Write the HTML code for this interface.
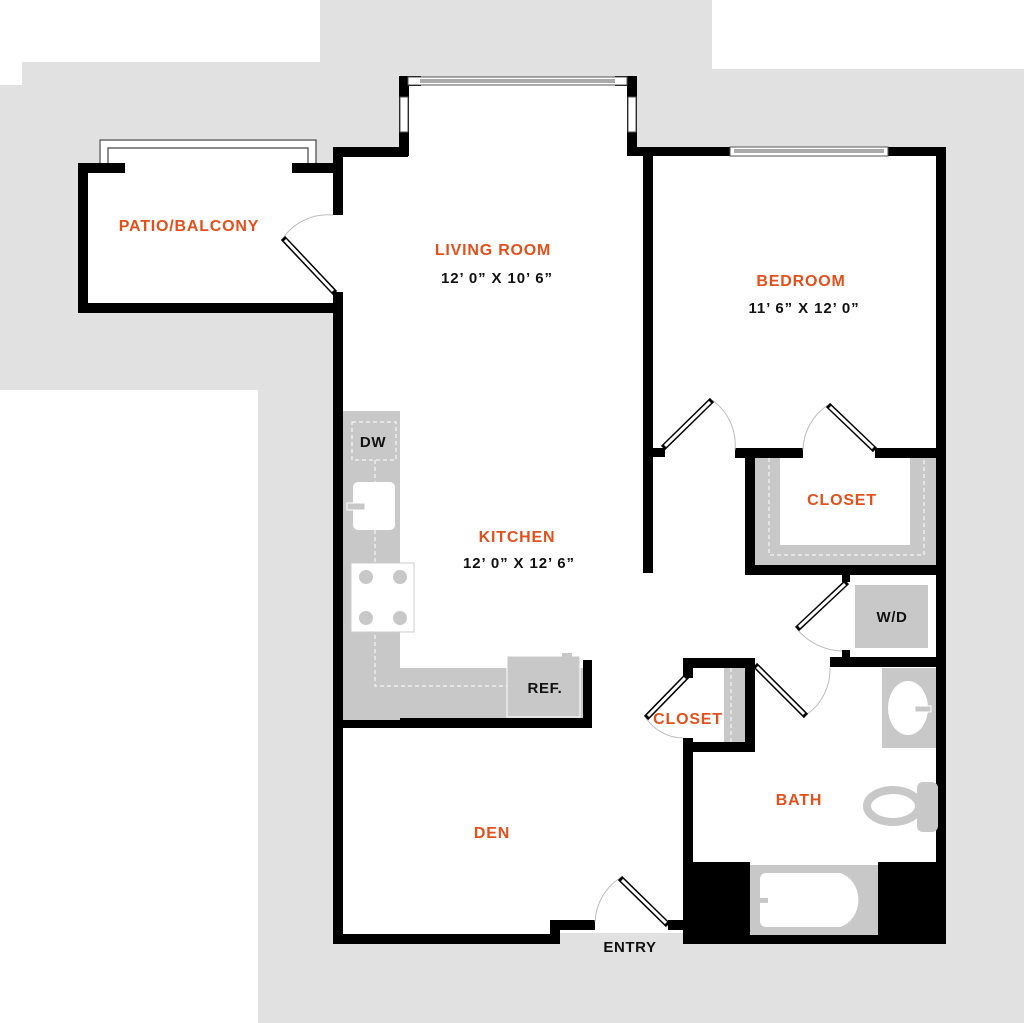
<!DOCTYPE html>
<html><head><meta charset="utf-8"><style>
html,body{margin:0;padding:0;background:#fff;}
svg{display:block;}
.lab{font-family:"Liberation Sans",sans-serif;font-weight:bold;fill:#e2501c;font-size:16px;letter-spacing:0.8px;text-anchor:middle;}
.dim{font-family:"Liberation Sans",sans-serif;font-weight:bold;fill:#111;font-size:15px;letter-spacing:0.9px;text-anchor:middle;}
.blk{font-family:"Liberation Sans",sans-serif;font-weight:bold;fill:#111;font-size:15px;letter-spacing:0.6px;text-anchor:middle;}
</style></head><body>
<svg width="1024" height="1023" viewBox="0 0 1024 1023" xmlns="http://www.w3.org/2000/svg">
<rect x="0" y="0" width="1024" height="1023" fill="#e1e1e1"/>
<rect x="0" y="0" width="320" height="62" fill="#fff"/>
<rect x="0" y="0" width="22" height="85" fill="#fff"/>
<rect x="712" y="0" width="312" height="69" fill="#fff"/>
<rect x="0" y="390" width="258" height="633" fill="#fff"/>

<rect x="88" y="163" width="250" height="142" fill="#fff"/>
<rect x="338" y="150" width="605" height="785" fill="#fff"/>
<rect x="403" y="80" width="230" height="80" fill="#fff"/>
<rect x="99" y="139" width="217" height="26" fill="#fff"/>
<rect x="558" y="925" width="125" height="37" fill="#e1e1e1"/>
<rect x="558" y="925" width="125" height="8" fill="#fff"/>

<g fill="#000">
<rect x="78" y="163" width="10" height="150"/>
<rect x="78" y="163" width="47" height="10"/>
<rect x="292" y="163" width="51" height="10"/>
<rect x="78" y="303" width="265" height="10"/>
<rect x="333" y="147" width="10" height="68"/>
<rect x="333" y="292" width="10" height="652"/>
<rect x="333" y="147" width="75" height="10"/>
<rect x="399" y="76" width="10" height="80"/>
<rect x="399" y="76" width="22" height="10"/>
<rect x="615" y="76" width="22" height="10"/>
<rect x="627" y="76" width="10" height="80"/>
<rect x="627" y="147" width="103" height="9"/>
<rect x="888" y="147" width="58" height="9"/>
<rect x="936" y="147" width="10" height="797"/>
<rect x="643" y="147" width="10" height="303"/>
<rect x="643" y="457" width="10" height="116"/>
<rect x="643" y="448" width="22" height="9"/>
<rect x="735" y="448" width="68" height="10"/>
<rect x="875" y="448" width="71" height="10"/>
<rect x="745" y="448" width="10" height="127"/>
<rect x="745" y="565" width="201" height="10"/>
<rect x="842" y="565" width="8" height="17"/>
<rect x="842" y="650" width="8" height="10"/>
<rect x="830" y="657" width="116" height="10"/>
<rect x="683" y="658" width="72" height="10"/>
<rect x="683" y="658" width="10" height="20"/>
<rect x="683" y="738" width="10" height="206"/>
<rect x="745" y="658" width="10" height="94"/>
<rect x="683" y="742" width="72" height="10"/>
<rect x="683" y="862" width="67" height="82"/>
<rect x="878" y="862" width="68" height="82"/>
<rect x="683" y="934" width="263" height="10"/>
<rect x="333" y="718" width="259" height="10"/>
<rect x="583" y="660" width="9" height="68"/>
<rect x="333" y="934" width="225" height="10"/>
<rect x="550" y="920" width="10" height="24"/>
<rect x="550" y="920" width="45" height="10"/>
<rect x="668" y="920" width="25" height="10"/>
</g>

<g fill="#fff" stroke="#555" stroke-width="1">
<rect x="408" y="77" width="219" height="8"/>
<line x1="420" y1="80" x2="615" y2="80"/><line x1="420" y1="82" x2="615" y2="82"/>
<rect x="400" y="97" width="8" height="35"/>
<rect x="628" y="97" width="8" height="35"/>
<rect x="730" y="147" width="158" height="9"/>
<line x1="734" y1="150" x2="884" y2="150"/><line x1="734" y1="152" x2="884" y2="152"/>
</g>
<g fill="none" stroke="#444" stroke-width="1.2">
<polyline points="100,163 100,140 316,140 316,163"/>
<polyline points="108,163 108,148 308,148 308,163"/>
</g>

<g fill="#c8c8c8">
<rect x="343" y="411" width="57" height="309"/>
<rect x="343" y="668" width="240" height="50"/>
<rect x="507" y="656" width="73" height="61" stroke="#fff" stroke-width="1"/>
<rect x="562" y="653" width="10" height="4"/>
</g>
<g fill="none" stroke="#fff" stroke-width="1" stroke-dasharray="4,3">
<rect x="352" y="422" width="44" height="38"/>
<polyline points="375,460 375,686 507,686"/>
</g>
<rect x="353" y="482" width="42" height="48" rx="5" fill="#fff"/>
<rect x="347" y="503" width="18" height="7" fill="#c8c8c8" stroke="#fff"/>
<rect x="351" y="563" width="63" height="69" fill="#fff" stroke="#ccc"/>
<g fill="#c8c8c8"><circle cx="366" cy="577" r="7"/><circle cx="400" cy="577" r="7"/><circle cx="366" cy="618" r="7"/><circle cx="400" cy="618" r="7"/></g>

<rect x="755" y="458" width="181" height="107" fill="#c8c8c8"/>
<rect x="780" y="458" width="130" height="87" fill="#fff"/>
<polyline points="769,458 769,555 924,555 924,458" fill="none" stroke="#fff" stroke-dasharray="4,3"/>
<rect x="855" y="585" width="73" height="63" fill="#c8c8c8"/>
<rect x="724" y="668" width="21" height="74" fill="#c8c8c8"/>
<line x1="731" y1="668" x2="731" y2="742" stroke="#fff" stroke-dasharray="4,3"/>
<rect x="882" y="668" width="54" height="80" fill="#c8c8c8"/>
<ellipse cx="908" cy="708" rx="20" ry="27" fill="#fff"/>
<rect x="915" y="706" width="16" height="6" fill="#c8c8c8" stroke="#fff"/>
<rect x="917" y="782" width="21" height="50" rx="6" fill="#c8c8c8"/>
<ellipse cx="893" cy="806" rx="26" ry="16" fill="#fff" stroke="#c8c8c8" stroke-width="8"/>
<rect x="750" y="865" width="128" height="70" fill="#c8c8c8"/>
<path d="M766,873 H840 A25,28 0 0 1 840,927 H766 A6,6 0 0 1 760,921 V879 A6,6 0 0 1 766,873 Z" fill="#fff"/>
<rect x="758" y="898" width="10" height="5" fill="#c8c8c8"/>

<g fill="none" stroke="#bbb" stroke-width="1">
<path d="M283,238 A55,55 0 0 1 333,215"/>
<path d="M712,400 A55,55 0 0 1 735,450"/>
<path d="M828,405 A55,55 0 0 0 803,450"/>
<path d="M797,629 A60,60 0 0 0 842,651"/>
<path d="M806,715 A55,55 0 0 0 830,668"/>
<path d="M646,718 A45,45 0 0 0 683,738"/>
<path d="M620,878 A55,55 0 0 0 595,922"/>
</g>
<g stroke="#000" stroke-width="6" stroke-linecap="butt">
<line x1="283" y1="238" x2="335" y2="293"/>
<line x1="663" y1="448" x2="712" y2="400"/>
<line x1="875" y1="450" x2="828" y2="405"/>
<line x1="847" y1="582" x2="797" y2="629"/>
<line x1="755" y1="665" x2="806" y2="716"/>
<line x1="687" y1="676" x2="646" y2="718"/>
<line x1="620" y1="878" x2="668" y2="925"/>
</g>
<g stroke="#fff" stroke-width="3">
<line x1="285" y1="240" x2="333" y2="291"/>
<line x1="665" y1="446" x2="710" y2="402"/>
<line x1="873" y1="448" x2="830" y2="407"/>
<line x1="845" y1="584" x2="799" y2="627"/>
<line x1="757" y1="667" x2="804" y2="714"/>
<line x1="685" y1="678" x2="648" y2="716"/>
<line x1="622" y1="880" x2="666" y2="923"/>
</g>

<text class="lab" x="189" y="231">PATIO/BALCONY</text>
<text class="lab" x="493" y="255">LIVING ROOM</text>
<text class="dim" x="497" y="283">12’ 0” X 10’ 6”</text>
<text class="lab" x="801" y="286">BEDROOM</text>
<text class="dim" x="804" y="313">11’ 6” X 12’ 0”</text>
<text class="lab" x="517" y="542">KITCHEN</text>
<text class="dim" x="519" y="568">12’ 0” X 12’ 6”</text>
<text class="lab" x="842" y="505">CLOSET</text>
<text class="lab" x="688" y="724">CLOSET</text>
<text class="lab" x="799" y="805">BATH</text>
<text class="lab" x="492" y="838">DEN</text>
<text class="blk" x="373" y="447">DW</text>
<text class="blk" x="545" y="693">REF.</text>
<text class="blk" x="892" y="622">W/D</text>
<text class="blk" x="630" y="952">ENTRY</text>
</svg>
</body></html>
